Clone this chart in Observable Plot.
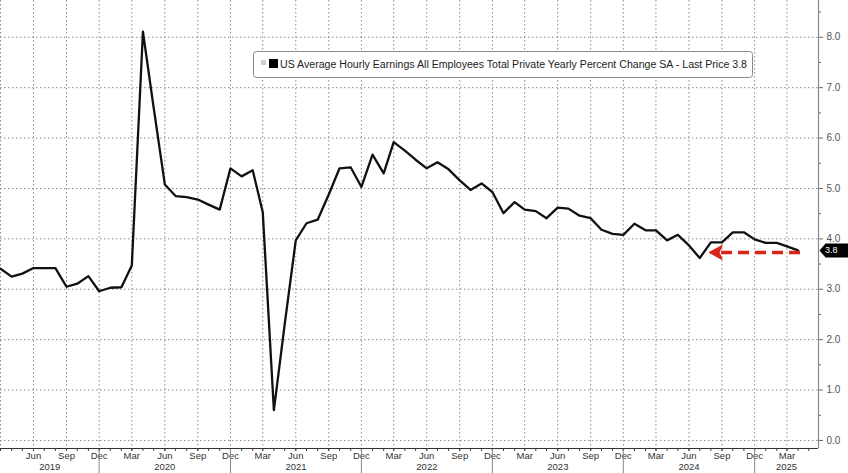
<!DOCTYPE html>
<html><head><meta charset="utf-8">
<script src="https://cdn.jsdelivr.net/npm/d3@7"></script>
<script src="https://cdn.jsdelivr.net/npm/@observablehq/plot@0.6"></script>
<style>
body{margin:0;background:#fff;}
#chart{position:relative;width:848px;height:473px;overflow:hidden;background:#fff;}
#legend{position:absolute;left:253px;top:51px;}
</style></head><body>
<div id="chart"></div>
<script>
// ---- data ----
const firstMonth = [2019, 2];          // March 2019 (UTC year, month index)
const aheYoY = [
  3.41,3.25,3.31,3.42,3.42,3.42,3.05,3.11,3.26,2.96,              // 2019 Mar–Dec
  3.03,3.04,3.47,8.11,6.60,5.08,4.85,4.83,4.78,4.68,4.58,5.40,    // 2020
  5.24,5.36,4.53,0.60,2.30,3.97,4.31,4.38,4.88,5.40,5.42,5.03,    // 2021
  5.67,5.30,5.92,5.75,5.57,5.40,5.52,5.38,5.16,4.97,5.10,4.93,    // 2022
  4.51,4.73,4.58,4.55,4.41,4.62,4.60,4.46,4.41,4.18,4.10,4.08,    // 2023
  4.30,4.17,4.17,3.97,4.08,3.87,3.62,3.93,3.93,4.13,4.13,3.99,    // 2024
  3.92,3.92,3.85,3.77                                             // 2025 Jan–Apr
];
const yTicks = [0,1,2,3,4,5,6,7,8];
const yMinorTicks = [0.5,1.5,2.5,3.5,4.5,5.5,6.5,7.5,8.5];
const quarterMonthNames = ["Mar","Jun","Sep","Dec"];
const years = [2019,2020,2021,2022,2023,2024,2025];
const seriesTitle = "US Average Hourly Earnings All Employees Total Private Yearly Percent Change SA - Last Price 3.8";
const lastPrice = 3.8;
const arrowLevel = 3.73;
const arrowTipDate = "2024-07-29";

// ---- derived table ----
const start = new Date(Date.UTC(firstMonth[0], firstMonth[1], 1));
const data = aheYoY.map((v, i) => ({date: d3.utcMonth.offset(start, i), value: v}));
const xDomain = [start, new Date(Date.UTC(2025, 4, 28))];
const yDomain = [-0.16, 8.73];

const months = d3.utcMonth.range(xDomain[0], xDomain[1]);
const fmtMon = d3.utcFormat("%b");
const quarters = months.filter(d => quarterMonthNames.includes(fmtMon(d)));
const quarterLabels = quarters.filter(d => +d > +xDomain[0]);
const decs = months.filter(d => fmtMon(d) === "Dec");
const yearCenters = years.map(y => {
  const l = new Date(Math.max(+xDomain[0], Date.UTC(y - 1, 11, 1)));
  const r = new Date(Math.min(+xDomain[1], Date.UTC(y, 11, 1)));
  return new Date((+l + +r) / 2);
});
const last = data[data.length - 1];

const tagSymbol = {
  draw(ctx) {
    ctx.moveTo(0, 0); ctx.lineTo(6, -7); ctx.lineTo(30, -7);
    ctx.lineTo(30, 7); ctx.lineTo(6, 7); ctx.closePath();
  }
};
const headSymbol = {
  draw(ctx) {
    ctx.moveTo(0, 0); ctx.lineTo(12, -6.5); ctx.lineTo(9, 0); ctx.lineTo(12, 6.5); ctx.closePath();
  }
};

const red = "#d8261e";
const gridStyle = {stroke: "#8a8a8a", strokeOpacity: 1, strokeWidth: 1, strokeDasharray: "1.5,2.5"};

const chart = Plot.plot({
  width: 848, height: 473,
  marginLeft: 0, marginRight: 30, marginTop: 0, marginBottom: 25,
  x: {type: "utc", domain: xDomain},
  y: {domain: yDomain},
  style: {fontFamily: "'Liberation Sans', Arial, sans-serif", fontSize: "9px", color: "#333", background: "#fff"},
  marks: [
    Plot.gridY(yTicks, gridStyle),
    Plot.gridX(quarters, gridStyle),
    // month minor ticks
    Plot.axisX(months, {tickSize: 3, tickFormat: () => "", stroke: "#444"}),
    // quarter labels
    Plot.axisX(quarterLabels, {tickSize: 3, tickPadding: 1, tickFormat: d => fmtMon(d), stroke: "#444", fill: "#333", fontSize: 9.5}),
    // year separators
    Plot.axisX(decs, {tickSize: 25, tickFormat: () => "", stroke: "#888"}),
    // year labels
    Plot.axisX(yearCenters, {tickSize: 0, tickPadding: 15, tickFormat: d => d3.utcFormat("%Y")(d), fill: "#333", fontSize: 9.5}),
    // y axis on right
    Plot.axisY(yMinorTicks.filter(v => v < yDomain[1]), {anchor: "right", tickSize: 2, tickFormat: () => "", stroke: "#666"}),
    Plot.axisY(yTicks, {anchor: "right", tickSize: 4, tickPadding: 4, tickFormat: d => d.toFixed(1), stroke: "#666", fill: "#555", fontSize: 10}),
    Plot.ruleY([yDomain[0]], {stroke: "#333", strokeWidth: 1.2}),
    Plot.ruleX([xDomain[1]], {stroke: "#888", strokeWidth: 1.2}),
    // series
    Plot.lineY(data, {x: "date", y: "value", stroke: "#111", strokeWidth: 2.3, strokeLinejoin: "round"}),
    // red dashed arrow
    Plot.link([{x1: last.date, x2: d3.utcDay.offset(new Date(arrowTipDate), 20), y: arrowLevel}], {
      x1: d => d.x1, x2: d => d.x2, y1: "y", y2: "y", dx: 2,
      stroke: red, strokeWidth: 3.6, strokeDasharray: "11,6"
    }),
    Plot.dot([{x: new Date(arrowTipDate), y: arrowLevel}], {
      x: "x", y: "y", symbol: headSymbol, fill: red, stroke: red, strokeWidth: 1.5, strokeLinejoin: "round"
    }),
    // last price tag
    Plot.dot([last], {y: "value", frameAnchor: "right", symbol: tagSymbol, fill: "#000", stroke: "none", dx: 1}),
    Plot.text([last], {y: "value", frameAnchor: "right", text: () => lastPrice.toFixed(1), dx: 19, fill: "#fff", fontSize: 9})
  ]
});

const holder = document.getElementById("chart");
holder.appendChild(chart);

// legend box
const legend = d3.select(holder).append("div").attr("id", "legend")
  .append("svg").attr("width", 501).attr("height", 28);
legend.append("rect").attr("x", 0.5).attr("y", 0.5).attr("width", 499).attr("height", 26)
  .attr("rx", 3).attr("fill", "#fff").attr("stroke", "#8a8a8a");
legend.append("rect").attr("x", 8).attr("y", 9).attr("width", 5).attr("height", 5).attr("fill", "#cfcfcf");
legend.append("rect").attr("x", 16).attr("y", 8).attr("width", 9).attr("height", 9).attr("fill", "#000");
legend.append("text").attr("x", 27).attr("y", 17)
  .attr("textLength", 467).attr("lengthAdjust", "spacingAndGlyphs")
  .style("font-family", "'Liberation Sans Narrow', 'Arial Narrow', 'Liberation Sans', sans-serif")
  .style("font-size", "10px").attr("fill", "#222")
  .text(seriesTitle);
</script>
</body></html>
